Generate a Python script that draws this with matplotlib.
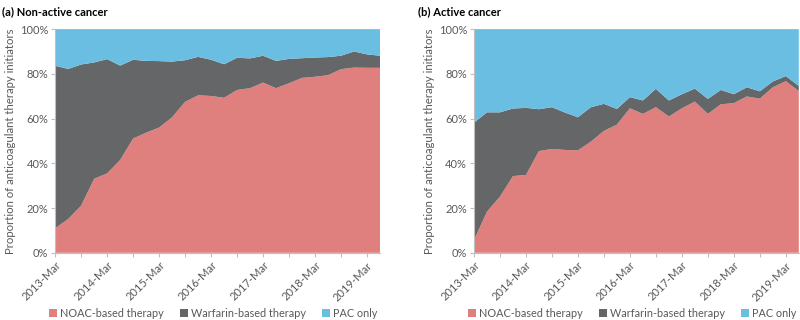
import matplotlib
matplotlib.use("Agg")
import matplotlib.pyplot as plt
from matplotlib.patches import Patch
from matplotlib.ticker import FuncFormatter, MultipleLocator

plt.rcParams['font.family'] = ['Lato', 'DejaVu Sans']

quarters = ["2013-Mar", "2013-Jun", "2013-Sep", "2013-Dec",
            "2014-Mar", "2014-Jun", "2014-Sep", "2014-Dec",
            "2015-Mar", "2015-Jun", "2015-Sep", "2015-Dec",
            "2016-Mar", "2016-Jun", "2016-Sep", "2016-Dec",
            "2017-Mar", "2017-Jun", "2017-Sep", "2017-Dec",
            "2018-Mar", "2018-Jun", "2018-Sep", "2018-Dec",
            "2019-Mar", "2019-Jun"]

# (a) Non-active cancer (%)
noac_a = [11.0, 15.1, 21.1, 33.1, 35.5, 41.5, 51.1, 53.7, 56.0, 60.6, 67.5, 70.4, 70.1,
          69.3, 72.8, 73.6, 76.1, 73.6, 75.8, 78.2, 78.7, 79.4, 82.1, 82.8, 82.7, 82.7]
warf_a = [72.6, 67.1, 63.1, 52.0, 51.1, 42.2, 35.2, 32.1, 29.7, 24.9, 18.6, 17.2, 16.2,
          15.0, 14.4, 13.3, 12.0, 12.2, 10.9, 8.8, 8.6, 8.1, 6.0, 7.2, 6.0, 5.4]
pac_a = [16.4, 17.8, 15.8, 14.9, 13.4, 16.3, 13.7, 14.2, 14.3, 14.5, 13.9, 12.4, 13.7,
         15.7, 12.8, 13.1, 11.9, 14.2, 13.3, 13.0, 12.7, 12.5, 11.9, 10.0, 11.3, 11.9]

# (b) Active cancer (%)
noac_b = [5.7, 18.4, 25.1, 34.3, 34.8, 45.5, 46.4, 46.0, 45.8, 49.7, 54.5, 57.3, 64.6,
          62.1, 65.1, 60.9, 64.6, 67.6, 62.1, 66.4, 66.9, 69.9, 68.9, 74.0, 76.7, 72.3]
warf_b = [52.5, 44.4, 37.7, 30.2, 30.0, 18.7, 18.7, 16.7, 14.8, 15.4, 12.1, 7.0, 5.0,
          6.0, 8.2, 7.2, 6.3, 5.8, 6.7, 6.4, 4.0, 4.1, 3.3, 2.6, 2.3, 2.3]
pac_b = [41.8, 37.2, 37.2, 35.5, 35.2, 35.8, 34.9, 37.3, 39.4, 34.9, 33.4, 35.7, 30.4,
         31.9, 26.7, 31.9, 29.1, 26.6, 31.2, 27.2, 29.1, 26.0, 27.8, 23.4, 21.0, 25.4]

series_names = ["NOAC-based therapy", "Warfarin-based therapy", "PAC only"]
colors = ["#E0807E", "#656668", "#6ABEE2"]
titles = ["(a) Non-active cancer", "(b) Active cancer"]
ylabel = "Proportion of anticoagulant therapy initiators"

fig = plt.figure(figsize=(8, 3.2), dpi=100)
axpos = [[0.069, 0.21, 0.406, 0.699], [0.5925, 0.21, 0.406, 0.699]]
data = [(noac_a, warf_a, pac_a), (noac_b, warf_b, pac_b)]
title_x = [0.003, 0.523]

grey = "#595959"
x = list(range(len(quarters)))
for i in range(2):
    ax = fig.add_axes(axpos[i])
    ax.stackplot(x, *data[i], colors=colors, linewidth=0)
    ax.set_xlim(0, len(quarters) - 1)
    ax.set_ylim(0, 100)
    ax.yaxis.set_major_locator(MultipleLocator(20))
    ax.yaxis.set_major_formatter(FuncFormatter(lambda v, p: f"{int(v)}%"))
    ax.set_xticks(x[::2])
    ax.set_xticklabels([q if k % 4 == 0 else "" for k, q in enumerate(quarters)][::2],
                       rotation=45, ha="right", rotation_mode="anchor")
    for s in ["top", "right"]:
        ax.spines[s].set_visible(False)
    for s in ["left", "bottom"]:
        ax.spines[s].set_color("#BFBFBF")
        ax.spines[s].set_linewidth(0.8)
    ax.tick_params(axis="both", colors="#BFBFBF", length=3, width=0.8,
                   labelcolor=grey, labelsize=8, pad=2)
    ax.set_ylabel(ylabel, fontsize=8.2, color=grey, labelpad=3)
    fig.text(title_x[i], 0.965, titles[i], fontsize=8, fontweight="bold",
             ha="left", va="center")
    handles = [Patch(facecolor=c, edgecolor="none") for c in colors]
    ax.legend(handles, series_names, loc="center", bbox_to_anchor=(0.487, -0.27),
              ncol=3, frameon=False, fontsize=7.8, handlelength=0.7, handleheight=0.7,
              handletextpad=0.3, columnspacing=1.5, labelcolor=grey)

fig.savefig("out.png", dpi=100)
